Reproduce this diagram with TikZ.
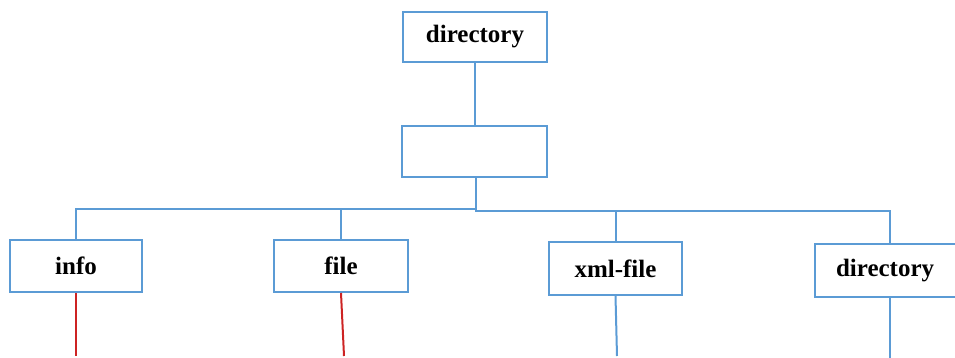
\documentclass[tikz,border=0pt]{standalone}
\usepackage{fontspec}
\setmainfont{Liberation Serif}
\definecolor{boxblue}{RGB}{91,155,213}
\definecolor{linered}{RGB}{205,35,35}
\begin{document}
\begin{tikzpicture}[x=1pt,y=-1pt,
  box/.style={draw=boxblue,line width=2pt,fill=white,inner sep=0pt,minimum height=50pt,
    font=\fontsize{25}{27}\selectfont\bfseries},
  conn/.style={draw=boxblue,line width=2pt},
  redconn/.style={draw=linered,line width=2pt}]
\useasboundingbox (0,0) rectangle (955,358);
\begin{scope}
\clip (0,0) rectangle (955,358);
\node[box,minimum width=144pt] (top) at (475,37) {directory};
\node[box,minimum width=145pt,minimum height=51pt] (mid) at (474.5,151.5) {};
\node[box,minimum width=132pt,minimum height=52pt] (info) at (76,266) {info};
\node[box,minimum width=134pt,minimum height=52pt] (file) at (341,266) {file};
\node[box,minimum width=133pt,minimum height=53pt] (xml) at (615.5,268.5) {xml-file};
\node[box,minimum width=144pt,minimum height=53pt,text width=144pt,align=left] (dir2) at (887,270.5) {\hspace{21pt}directory};
\coordinate (busL) at (476,209);
\coordinate (busR) at (476,211);
\coordinate (infoEnd) at (76,356);
\coordinate (fileEnd) at (344,356);
\coordinate (xmlEnd) at (617,356);
\coordinate (dirEnd) at (890,358);
\draw[conn] (top.south) -- (top.south |- mid.north);
\draw[conn] (busR |- mid.south) -- (busL);
\draw[conn] (busL) -| (info.north);
\draw[conn] (busL) -| (file.north);
\draw[conn] (busL) -- (busR) -| (xml.north);
\draw[conn] (busR) -| (dirEnd |- dir2.north);
\draw[redconn] (info.south) -- (infoEnd);
\draw[redconn] (file.south) -- (fileEnd);
\draw[conn] (xml.south) -- (xmlEnd);
\draw[conn] (dirEnd |- dir2.south) -- (dirEnd);
\end{scope}
\end{tikzpicture}
\end{document}
